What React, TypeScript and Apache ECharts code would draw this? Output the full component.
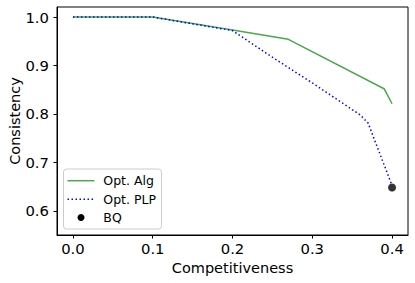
import React, { useEffect, useRef } from "react";
import * as echarts from "echarts";

const algName = "Opt. Alg";
const plpName = "Opt. PLP";
const bqName = "BQ";
const xTitle = "Competitiveness";
const yTitle = "Consistency";

const algX = [0, 0.1, 0.2, 0.27, 0.39, 0.4];
const algY = [1.0, 1.0, 0.973, 0.954, 0.852, 0.821];
const plpX = [0, 0.1, 0.2, 0.25, 0.3, 0.36, 0.37, 0.4];
const plpY = [1.0, 1.0, 0.972, 0.917, 0.864, 0.798, 0.781, 0.652];
const bqX = [0.4];
const bqY = [0.648];

const xTicks = [0, 0.1, 0.2, 0.3, 0.4];
const yTicks = [0.6, 0.7, 0.8, 0.9, 1.0];

const FONT = "DejaVu Sans";
const GREEN = "#4aa84a";
const BLUE = "#0000ff";

export default function App() {
  const ref = useRef<HTMLDivElement>(null);
  useEffect(() => {
    if (!ref.current) return;
    const chart = echarts.init(ref.current, undefined, { renderer: "svg" });
    const zip = (xs: number[], ys: number[]) => xs.map((x, i) => [x, ys[i]]);
    const lx = 63.5, ly = 169, lw = 98, lh = 60;
    const rowY = [180.7, 199.3, 217.5];
    chart.setOption({
      animation: false,
      backgroundColor: "#ffffff",
      grid: {
        left: 57,
        right: 7,
        top: 7,
        bottom: 48,
        show: true,
        borderColor: "#000",
        borderWidth: 1,
        backgroundColor: "transparent",
        containLabel: false,
        outerBoundsMode: "none",
      },
      xAxis: {
        type: "value",
        min: -0.02,
        max: 0.42,
        name: xTitle,
        nameLocation: "middle",
        nameGap: 25,
        nameMoveOverlap: false,
        nameTextStyle: { fontFamily: FONT, fontSize: 14.5, color: "#000" },
        axisLine: { show: true, onZero: false, lineStyle: { color: "#000", width: 1 } },
        axisTick: { show: true, inside: false, length: 3.5, customValues: xTicks, lineStyle: { color: "#000" } },
        axisLabel: {
          customValues: xTicks,
          formatter: (v: number) => v.toFixed(1),
          fontFamily: FONT,
          fontSize: 14.8,
          color: "#000",
          margin: 6,
        },
        splitLine: { show: false },
      },
      yAxis: {
        type: "value",
        min: 0.55,
        max: 1.0207,
        name: yTitle,
        nameLocation: "middle",
        nameGap: 35,
        nameMoveOverlap: false,
        nameTextStyle: { fontFamily: FONT, fontSize: 14.5, color: "#000" },
        axisLine: { show: true, onZero: false, lineStyle: { color: "#000", width: 1 } },
        axisTick: { show: true, inside: false, length: 3.5, customValues: yTicks, lineStyle: { color: "#000" } },
        axisLabel: {
          customValues: yTicks,
          formatter: (v: number) => v.toFixed(1),
          fontFamily: FONT,
          fontSize: 14.8,
          color: "#000",
          margin: 8,
        },
        splitLine: { show: false },
      },
      series: [
        {
          name: algName,
          type: "line",
          data: zip(algX, algY),
          showSymbol: false,
          lineStyle: { color: GREEN, width: 1.5 },
          z: 2,
        },
        {
          name: plpName,
          type: "line",
          data: zip(plpX, plpY),
          showSymbol: false,
          lineStyle: { color: BLUE, width: 1.5, type: [1.5, 2.5] },
          z: 3,
        },
        {
          name: bqName,
          type: "scatter",
          data: zip(bqX, bqY),
          symbol: "circle",
          symbolSize: 8,
          itemStyle: { color: "#000" },
          z: 4,
        },
      ],
      graphic: [
        {
          type: "rect",
          shape: { x: lx, y: ly, width: lw, height: lh, r: 3 },
          style: { fill: "rgba(255,255,255,0.8)", stroke: "#cccccc", lineWidth: 1 },
          z: 10,
        },
        {
          type: "line",
          shape: { x1: 67.5, y1: rowY[0], x2: 94.5, y2: rowY[0] },
          style: { stroke: GREEN, lineWidth: 1.5 },
          z: 11,
        },
        {
          type: "line",
          shape: { x1: 67.5, y1: rowY[1], x2: 94.5, y2: rowY[1] },
          style: { stroke: BLUE, lineWidth: 1.5, lineDash: [1.5, 2.5] },
          z: 11,
        },
        {
          type: "circle",
          shape: { cx: 81, cy: rowY[2], r: 3.5 },
          style: { fill: "#000" },
          z: 11,
        },
        ...[algName, plpName, bqName].map((t, i) => ({
          type: "text",
          x: 103.3,
          y: rowY[i],
          style: {
            text: t,
            fontFamily: FONT,
            fontSize: 12.5,
            fill: "#000",
            textVerticalAlign: "middle",
            verticalAlign: "middle",
          },
          z: 11,
        })),
      ],
    });
    return () => chart.dispose();
  }, []);
  return (
    <div
      ref={ref}
      style={{ position: "absolute", left: 0, top: 0, width: 415, height: 283, background: "#fff" }}
    />
  );
}
